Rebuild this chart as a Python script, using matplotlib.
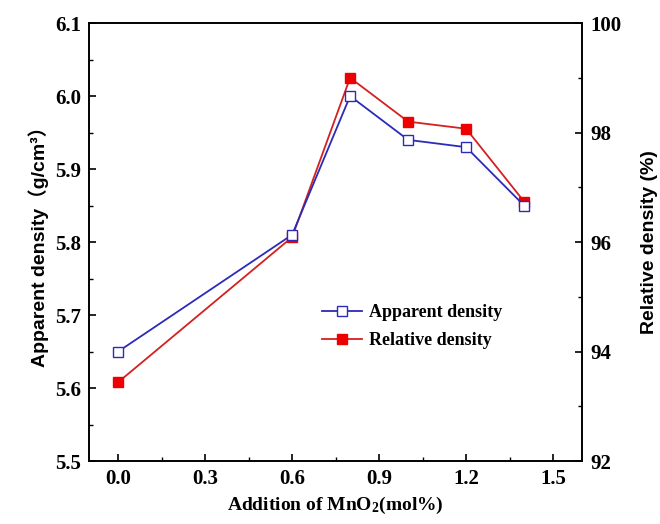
import numpy as np
import matplotlib.pyplot as plt
from matplotlib.ticker import MultipleLocator

plt.rcParams['mathtext.fontset'] = 'custom'
plt.rcParams['mathtext.default'] = 'bf'
plt.rcParams['mathtext.bf'] = 'Liberation Serif:bold'

# data
mno2 = [0.0, 0.6, 0.8, 1.0, 1.2, 1.4]
apparent = [5.65, 5.81, 6.00, 5.94, 5.93, 5.85]
relative = [93.44, 96.09, 99.0, 98.2, 98.07, 96.74]

serif = 'Liberation Serif'
sans = 'Liberation Sans'

fig = plt.figure(figsize=(6.6, 5.24), dpi=100)
ax = fig.add_axes([0.135, 0.12, 0.747, 0.836])
ax2 = ax.twinx()

l1, = ax.plot(mno2, apparent, color='#2b2bb8', lw=1.3, marker='s', ms=6.5,
              mfc='white', mec='#2b2bb8', mew=1.0, label='Apparent density', zorder=3)
l2, = ax2.plot(mno2, relative, color='#d42020', lw=1.3, marker='s', ms=6.5,
               mfc='#ee0000', mec='#ee0000', label='Relative density', zorder=3)

ax.set_xlim(-0.1, 1.6)
ax.set_ylim(5.5, 6.1)
ax2.set_ylim(92, 100)

ax.xaxis.set_minor_locator(MultipleLocator(0.15))
ax.yaxis.set_major_locator(MultipleLocator(0.1))
ax.yaxis.set_minor_locator(MultipleLocator(0.05))
ax2.yaxis.set_major_locator(MultipleLocator(2))
ax2.yaxis.set_minor_locator(MultipleLocator(1))

ax.set_xticks([0.0, 0.3, 0.6, 0.9, 1.2, 1.5])
ax.set_xticklabels(['0.0', '0.3', '0.6', '0.9', '1.2', '1.5'])

for a in (ax, ax2):
    a.tick_params(which='both', direction='in', top=False, pad=6)
    a.tick_params(which='major', length=5, width=1.2)
    a.tick_params(which='minor', length=3, width=1.0)
    for lab in a.get_xticklabels() + a.get_yticklabels():
        lab.set_fontfamily(serif)
        lab.set_fontweight('bold')
        lab.set_fontsize(15)
    for s in a.spines.values():
        s.set_linewidth(1.2)
ax.tick_params(axis='y', which='both', right=False)
ax2.tick_params(axis='y', which='both', left=False)

ax.set_xlabel('Addition of MnO$_2$(mol%)', fontfamily=serif, fontweight='bold',
              fontsize=14, labelpad=4)
ax.set_ylabel('Apparent density（g/cm³）', family=[sans, 'Noto Sans CJK SC'],
              fontweight='bold', fontsize=14, labelpad=4)
ax2.set_ylabel('Relative density (%)', fontfamily=sans, fontweight='bold',
               fontsize=14, labelpad=14)

leg = ax.legend([l1, l2], ['Apparent density', 'Relative density'],
                loc='upper left', bbox_to_anchor=(0.44, 0.395), frameon=False,
                handlelength=2.2, handletextpad=0.4, labelspacing=0.6,
                prop={'family': serif, 'weight': 'bold', 'size': 13})
ax.set_zorder(ax2.get_zorder() + 1)
ax.patch.set_visible(False)

fig.savefig('out.png', dpi=100)
